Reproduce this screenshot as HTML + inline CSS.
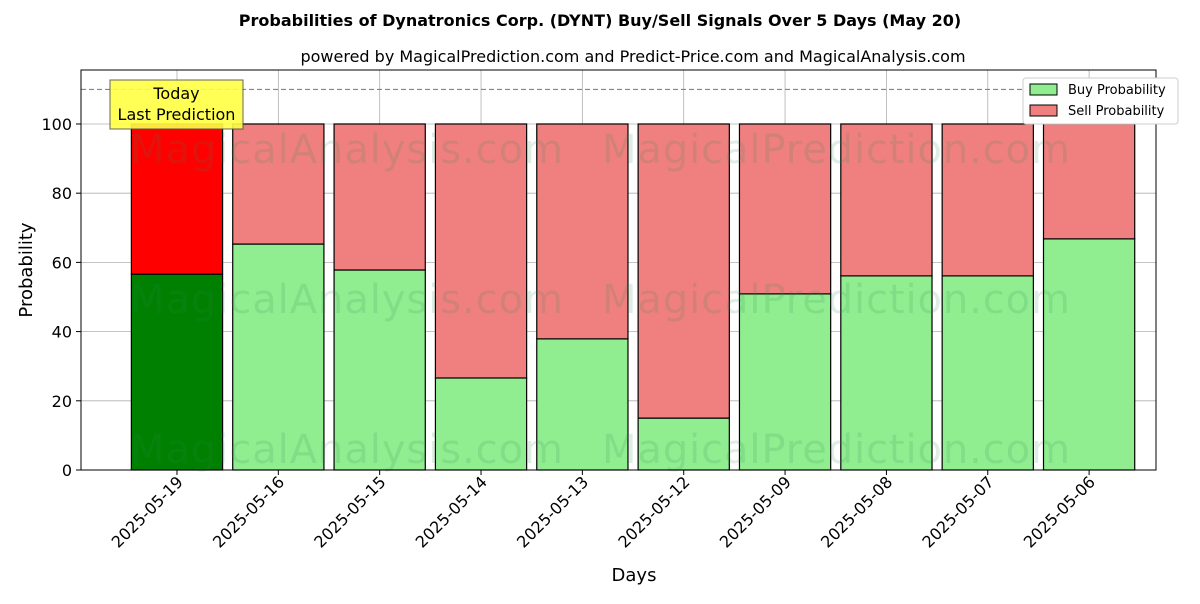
<!DOCTYPE html>
<html><head><meta charset="utf-8"><style>
body{margin:0;background:#fff;font-family:"DejaVu Sans","Liberation Sans",sans-serif}
svg text{font-family:"DejaVu Sans","Liberation Sans",sans-serif}
</style></head><body>
<svg id="chart" width="1200" height="600" xmlns="http://www.w3.org/2000/svg">
<rect width="1200" height="600" fill="#fff"/>
<text x="600" y="26" text-anchor="middle" font-size="16" font-weight="bold">Probabilities of Dynatronics Corp. (DYNT) Buy/Sell Signals Over 5 Days (May 20)</text>
<text x="633" y="62" text-anchor="middle" font-size="16">powered by MagicalPrediction.com and Predict-Price.com and MagicalAnalysis.com</text>
<g id="grid"></g>
<g id="bars"></g>
<g id="wm" font-size="40" fill="#2e8b57" opacity="0.15">
<text x="130" y="163" textLength="433">MagicalAnalysis.com</text>
<text x="602" y="163" textLength="468">MagicalPrediction.com</text>
<text x="130" y="313" textLength="433">MagicalAnalysis.com</text>
<text x="602" y="313" textLength="468">MagicalPrediction.com</text>
<text x="130" y="463" textLength="433">MagicalAnalysis.com</text>
<text x="602" y="463" textLength="468">MagicalPrediction.com</text>
</g>
<line x1="81" x2="1156" y1="89.4" y2="89.4" stroke="#777" stroke-dasharray="5,3"/>
<g id="axes"></g>
<rect x="81" y="70" width="1075" height="400" fill="none" stroke="#000"/>
<g>
<rect x="110" y="80" width="133" height="49" fill="#ffff44" stroke="#555" opacity="0.9"/>
<text x="176.5" y="99" text-anchor="middle" font-size="16">Today</text>
<text x="176.5" y="120" text-anchor="middle" font-size="16">Last Prediction</text>
</g>
<g>
<rect x="1023" y="78" width="155" height="46" fill="#fff" stroke="#ccc" rx="3"/>
<rect x="1030" y="84" width="27" height="11" fill="#90ee90" stroke="#000"/>
<text x="1068" y="94" font-size="13">Buy Probability</text>
<rect x="1030" y="105" width="27" height="11" fill="#f08080" stroke="#000"/>
<text x="1068" y="115" font-size="13">Sell Probability</text>
</g>
<text x="634" y="581" text-anchor="middle" font-size="18">Days</text>
<text transform="translate(32,270) rotate(-90)" text-anchor="middle" font-size="18">Probability</text>
</svg>
<script>
const categories=["2025-05-19","2025-05-16","2025-05-15","2025-05-14","2025-05-13","2025-05-12","2025-05-09","2025-05-08","2025-05-07","2025-05-06"];
const buyValues=[56.6,65.3,57.8,26.6,37.9,15.0,50.9,56.1,56.1,66.8];
const yTicks=[0,20,40,60,80,100];
const NS="http://www.w3.org/2000/svg";
const X0=81,X1=1156,Y0=470,Y1=70,xmin=-0.947,xmax=9.66,ymax=115.6;
const xs=i=>X0+(i-xmin)/(xmax-xmin)*(X1-X0);
const ys=v=>Y0-v/ymax*(Y0-Y1);
function mk(t,a,p){const e=document.createElementNS(NS,t);for(const k in a)e.setAttribute(k,a[k]);p.appendChild(e);return e;}
const grid=document.getElementById('grid'),bars=document.getElementById('bars'),axes=document.getElementById('axes');
yTicks.forEach(v=>{
 const g=mk('line',{x1:X0,x2:X1,y1:ys(v),y2:ys(v),stroke:'#b0b0b0','stroke-width':0.8},grid);
 
 
 mk('line',{x1:X0-5,x2:X0,y1:ys(v),y2:ys(v),stroke:'#000'},axes);
 const t=mk('text',{x:X0-9,y:ys(v)+6,'text-anchor':'end','font-size':16},axes);
 t.textContent=v;
 
 
});
const bw=0.9*(X1-X0)/(xmax-xmin);
categories.forEach((c,i)=>{
 const cx=xs(i);
 const g=mk('line',{x1:cx,x2:cx,y1:Y1,y2:Y0,stroke:'#b0b0b0','stroke-width':0.8},grid);
 
 
 const b=buyValues[i];
 const rb=mk('rect',{x:cx-bw/2,y:ys(b),width:bw,height:ys(0)-ys(b),fill:i===0?'#008000':'#90ee90',stroke:'#000','stroke-width':1.2},bars);
 
 
 const rs=mk('rect',{x:cx-bw/2,y:ys(100),width:bw,height:ys(b)-ys(100),fill:i===0?'#ff0000':'#f08080',stroke:'#000','stroke-width':1.2},bars);
 
 
 mk('line',{x1:cx,x2:cx,y1:Y0,y2:Y0+5,stroke:'#000'},axes);
 const t=mk('text',{transform:`translate(${cx+7},${Y0+13}) rotate(-45)`,'text-anchor':'end','font-size':16},axes);
 t.textContent=c;
 
 
});
</script>
</body></html>
